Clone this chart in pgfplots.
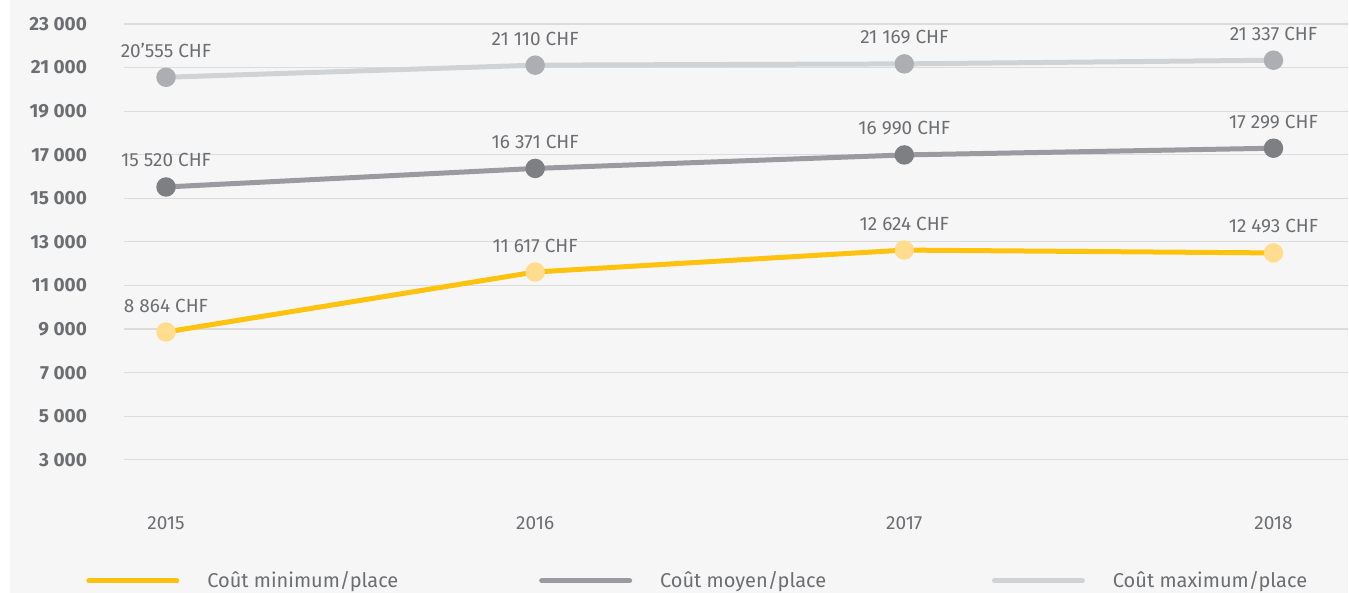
\documentclass[border=0pt]{standalone}
\usepackage{pgfplots}
\pgfplotsset{compat=1.18}
\usepackage{fontspec}
\setmainfont{Fira Sans}
\definecolor{bgc}{HTML}{F6F6F6}
\definecolor{gridc}{HTML}{DCDCDC}
\definecolor{txt}{HTML}{6D6E71}
\definecolor{ylw}{HTML}{FFC20E}
\definecolor{ylwm}{HTML}{FFDC8E}
\definecolor{avg}{HTML}{9B9B9F}
\definecolor{avgm}{HTML}{7E7F83}
\definecolor{mx}{HTML}{D1D2D4}
\definecolor{mxm}{HTML}{ADAEB1}

\begin{document}
\begin{tikzpicture}
% canvas: 1px = 0.5pt
\fill[white] (-62pt,-46.5pt) rectangle (612.5pt,250pt);
\fill[bgc] (-57pt,-46.5pt) rectangle (612.5pt,250pt);
\begin{axis}[
    at={(0,0)}, anchor=south west, scale only axis,
    width=612.5pt, height=238pt,
    xmin=2014.886, xmax=2018.203,
    ymin=1165, ymax=23000,
    clip=false,
    scaled y ticks=false,
    axis line style={draw=none},
    major tick length=0pt,
    ymajorgrids,
    grid style={gridc, line width=0.6pt},
    ytick={3000,5000,7000,9000,11000,13000,15000,17000,19000,21000,23000},
    yticklabels={3 000,5 000,7 000,9 000,11 000,13 000,15 000,17 000,19 000,21 000,23 000},
    yticklabel style={anchor=east, xshift=-15pt, text=txt,
                      font=\fontsize{9.5}{11}\selectfont\bfseries},
    xtick={2015,2016,2017,2018},
    xticklabels={2015,2016,2017,2018},
    xticklabel style={anchor=north, yshift=-5pt, text=txt,
                      font=\fontsize{9.5}{11}\selectfont},
    every axis plot/.style={line width=2.5pt, mark=*, mark size=3.6pt},
    nodes near coords,
    point meta=explicit symbolic,
    every node near coord/.append style={anchor=base, yshift=10pt, text=txt,
                      font=\fontsize{9.5}{11}\selectfont},
    legend columns=3,
    legend image code/.code={\draw[#1, line cap=round] (0pt,0pt) -- (44pt,0pt);},
    legend style={at={(axis description cs:-0.031,-0.170)}, anchor=west,
                  draw=none, fill=none, inner sep=0pt, column sep=14pt,
                  nodes={inner sep=0pt, text=txt},
                  font=\fontsize{10}{12}\selectfont},
]
\addplot[ylw, mark options={fill=ylwm, draw=ylwm}] coordinates {
    (2015,8864) [8 864 CHF]
    (2016,11617) [11 617 CHF]
    (2017,12624) [12 624 CHF]
    (2018,12493) [12 493 CHF]
};
\addlegendentry{\makebox[152pt][l]{Coût minimum/place}}
\addplot[avg, mark options={fill=avgm, draw=avgm}] coordinates {
    (2015,15520) [15 520 CHF]
    (2016,16371) [16 371 CHF]
    (2017,16990) [16 990 CHF]
    (2018,17299) [17 299 CHF]
};
\addlegendentry{\makebox[152pt][l]{Coût moyen/place}}
\addplot[mx, mark options={fill=mxm, draw=mxm}] coordinates {
    (2015,20555) [20’555 CHF]
    (2016,21110) [21 110 CHF]
    (2017,21169) [21 169 CHF]
    (2018,21337) [21 337 CHF]
};
\addlegendentry{Coût maximum/place}
\end{axis}
\path[use as bounding box] (-62pt,-46.5pt) rectangle (612.5pt,250pt);
\end{tikzpicture}
\end{document}
